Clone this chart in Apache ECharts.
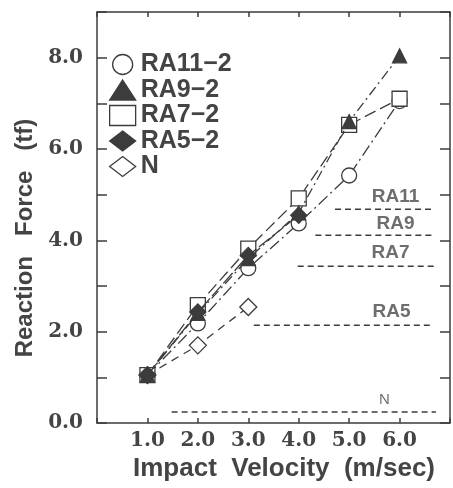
<!DOCTYPE html>
<html>
<head>
<meta charset="utf-8">
<script src="https://cdn.jsdelivr.net/npm/echarts@6/dist/echarts.min.js"></script>
<style>
html,body{margin:0;padding:0;background:#fff;}
#chart{width:453px;height:488px;}
</style>
</head>
<body>
<div id="chart"></div>
<script>
// ---- data ----
const velocities = [1.0, 2.0, 3.0, 4.0, 5.0, 6.0];
const ra11 = [1.05, 2.18, 3.39, 4.37, 5.42, 7.05];
const ra9  = [1.05, 2.40, 3.60, 4.60, 6.60, 8.04];
const ra7  = [1.05, 2.58, 3.82, 4.92, 6.53, 7.10];
const ra5  = [1.05, 2.43, 3.67, 4.55];
const nPlain = [1.05, 1.70, 2.54];
const seriesNames = ['RA11−2', 'RA9−2', 'RA7−2', 'RA5−2', 'N'];

const refNames  = ['RA11', 'RA9', 'RA7', 'RA5', 'N'];
const refLevels = [4.68, 4.11, 3.43, 2.14, 0.24];
const refStart  = [4.72, 4.33, 3.98, 3.11, 1.48];
const refEnd    = [6.68, 6.70, 6.72, 6.68, 6.72];
const refLabelX = [5.92, 5.92, 5.82, 5.84, 5.70];
const refLabelY = [4.96, 4.37, 3.72, 2.43, 0.50];

const xTicks = [1.0, 2.0, 3.0, 4.0, 5.0, 6.0];
const yTickLabels = [0.0, 2.0, 4.0, 6.0, 8.0];
const xTitle = 'Impact  Velocity  (m/sec)';
const yTitle = 'Reaction   Force   (tf)';

// ---- styles ----
const INK = '#3c3c3c';
const sansFont = "'Liberation Sans', Arial, sans-serif";
const serifFont = "'DejaVu Serif', serif";

function pts(vals) { return vals.map((v, i) => [velocities[i], v]); }

const markerDefs = [
  { symbol: 'circle',   fill: '#fff', dash: [12, 4, 2, 4], size: 15 },
  { symbol: 'triangle', fill: INK,    dash: [10, 4, 2, 4], size: 14 },
  { symbol: 'rect',     fill: '#fff', dash: [12, 5],       size: 15 },
  { symbol: 'diamond',  fill: INK,    dash: [14, 3],       size: 16 },
  { symbol: 'diamond',  fill: '#fff', dash: [8, 6],        size: 17 }
];
const dataSets = [ra11, ra9, ra7, ra5, nPlain];

const mainSeries = dataSets.map((d, i) => ({
  name: seriesNames[i],
  type: 'line',
  data: pts(d),
  symbol: markerDefs[i].symbol,
  symbolSize: markerDefs[i].size,
  showAllSymbol: true,
  lineStyle: { color: INK, width: 1.3, type: markerDefs[i].dash },
  itemStyle: { color: markerDefs[i].fill, borderColor: INK, borderWidth: 1.3 },
  z: 5 + (markerDefs[i].fill === INK ? 1 : 0),
  animation: false
}));

const refSeries = refNames.map((n, i) => ({
  name: 'ref_' + n,
  type: 'line',
  data: [[refStart[i], refLevels[i]], [refEnd[i], refLevels[i]]],
  symbol: 'none',
  lineStyle: { color: INK, width: 1.5, type: [6, 4] },
  silent: true,
  animation: false
}));

const labelSeries = {
  name: 'refLabels',
  type: 'scatter',
  symbolSize: 1,
  itemStyle: { color: 'rgba(0,0,0,0)' },
  data: refNames.map((n, i) => [refLabelX[i], refLabelY[i], n]),
  label: {
    show: true,
    position: 'inside',
    formatter: p => p.value[2],
    color: '#4a4a4a',
    fontFamily: sansFont,
    fontWeight: 'bold',
    fontSize: 19
  },
  silent: true,
  animation: false
};
labelSeries.data[4] = {
  value: [refLabelX[4], refLabelY[4], refNames[4]],
  label: { fontSize: 15, fontWeight: 'normal' }
};

const chart = echarts.init(document.getElementById('chart'), null, { renderer: 'canvas' });

const axisLineStyle = { show: true, onZero: false, lineStyle: { color: INK, width: 1.5 } };
const tickStyle = { color: INK, width: 1.5 };

chart.setOption({
  backgroundColor: '#fff',
  animation: false,
  grid: { left: 97, top: 12, width: 360, height: 411 },
  legend: {
    orient: 'vertical',
    left: 104,
    top: 47,
    itemWidth: 26,
    itemHeight: 20,
    itemGap: 0.5,
    textStyle: { color: '#444', fontFamily: sansFont, fontWeight: 'bold', fontSize: 25 },
    data: seriesNames.map((n, i) => ({
      name: n,
      icon: markerDefs[i].symbol,
      itemStyle: { color: markerDefs[i].fill, borderColor: INK, borderWidth: 1.3 }
    }))
  },
  graphic: [
    {
      type: 'text', x: 284, y: 469,
      style: { text: xTitle, fill: '#444', font: "bold 26px 'Liberation Sans', Arial, sans-serif",
               align: 'center', verticalAlign: 'middle' }
    },
    {
      type: 'text', x: 25, y: 238, rotation: Math.PI / 2,
      style: { text: yTitle, fill: '#444', font: "bold 24px 'Liberation Sans', Arial, sans-serif",
               align: 'center', verticalAlign: 'middle' }
    }
  ],
  xAxis: [
    {
      type: 'value', min: 0, max: 7, interval: 1, position: 'bottom',
      axisLine: axisLineStyle,
      axisTick: { show: true, inside: true, length: 5, lineStyle: tickStyle },
      splitLine: { show: false },
      axisLabel: {
        margin: 8,
        color: '#444', fontFamily: serifFont, fontSize: 20, fontWeight: 'bold',
        formatter: v => xTicks.includes(v) ? v.toFixed(1) : ''
      }
    },
    {
      type: 'value', min: 0, max: 7, interval: 1, position: 'top',
      axisLine: axisLineStyle,
      axisTick: { show: true, inside: true, length: 5, lineStyle: tickStyle },
      splitLine: { show: false },
      axisLabel: { show: false }
    }
  ],
  yAxis: [
    {
      type: 'value', min: 0, max: 9, interval: 1, position: 'left',
      axisLine: axisLineStyle,
      axisTick: { show: true, inside: true, length: 10, lineStyle: tickStyle },
      splitLine: { show: false },
      axisLabel: {
        margin: 14,
        color: '#444', fontFamily: serifFont, fontSize: 20, fontWeight: 'bold',
        formatter: v => yTickLabels.includes(v) ? v.toFixed(1) : ''
      }
    },
    {
      type: 'value', min: 0, max: 9, interval: 1, position: 'right',
      axisLine: axisLineStyle,
      axisTick: { show: true, inside: true, length: 10, lineStyle: tickStyle },
      splitLine: { show: false },
      axisLabel: { show: false }
    }
  ],
  series: [...refSeries, ...mainSeries, labelSeries]
});
</script>
</body>
</html>
